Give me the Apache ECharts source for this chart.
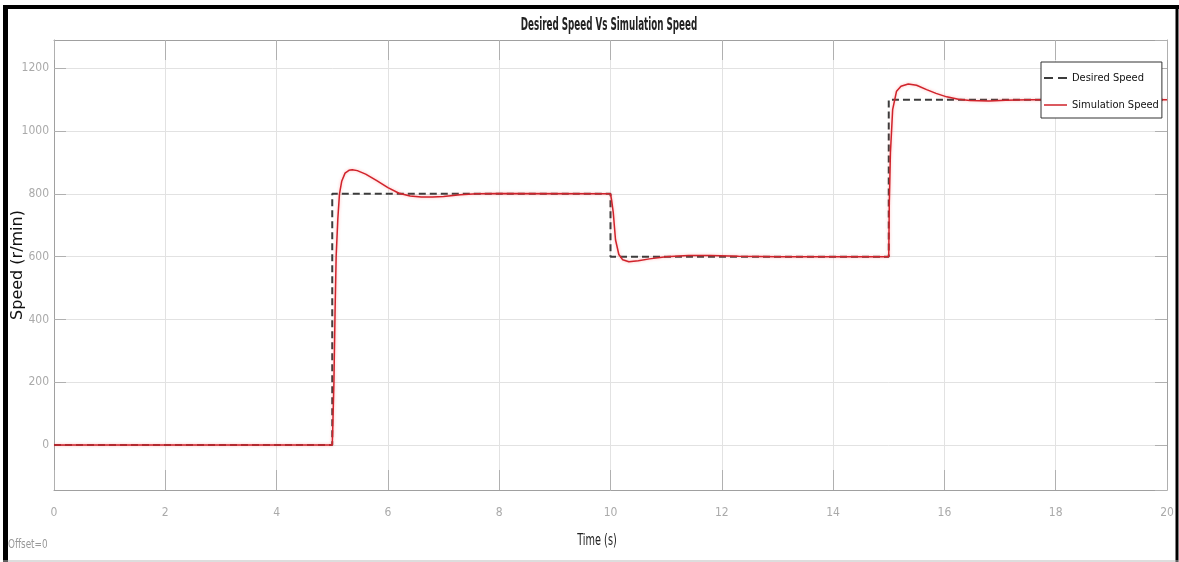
<!DOCTYPE html>
<html>
<head>
<meta charset="utf-8">
<title>Desired Speed Vs Simulation Speed</title>
<script src="https://cdn.jsdelivr.net/npm/echarts@6/dist/echarts.min.js"></script>
<style>
  html, body { margin: 0; padding: 0; background: #fff; }
  #chart { width: 1179px; height: 562px; }
</style>
</head>
<body>
<div id="chart"></div>
<script>
  // 给定转速（阶跃）
  var desiredTime = [0, 5, 5, 10, 10, 15, 15, 20];
  var desiredSpeed = [0, 0, 800, 800, 600, 600, 1100, 1100];

  // 仿真转速，从示波器图上读出来的
  var simTime = [0, 5.0, 5.01, 5.03, 5.05, 5.07, 5.1, 5.13, 5.17, 5.23, 5.3, 5.36, 5.45, 5.6, 5.8, 6.0, 6.2, 6.4,
    6.6, 6.8, 7.0, 7.3, 7.6, 8.0, 10.0, 10.02, 10.05, 10.09, 10.15, 10.22, 10.33, 10.5, 10.7, 11.0, 11.4, 11.8,
    12.3, 13.0, 15.0, 15.01, 15.03, 15.07, 15.14, 15.22, 15.35, 15.5, 15.68, 15.85, 16.04, 16.25, 16.46, 16.8,
    17.1, 17.5, 20];
  var simSpeed = [0, 0, 60, 200, 420, 600, 720, 800, 840, 866, 875, 877, 874, 863, 842, 820, 802, 793,
    790, 790, 792, 797, 800, 801, 800, 780, 740, 654, 607, 590, 584, 587, 593, 600, 604, 604,
    601, 600, 600, 771, 930, 1068, 1127, 1143, 1150, 1146, 1132, 1120, 1109, 1101, 1097, 1096,
    1098, 1100, 1100];

  // 刻度标签
  var xTicks = [0, 2, 4, 6, 8, 10, 12, 14, 16, 18, 20];
  var yTicks = [0, 200, 400, 600, 800, 1000, 1200];

  var narrow = "'DejaVu Sans Condensed', 'Liberation Sans', sans-serif";

  // 图例图标：虚线 / 实线（两个角上的小三角只是为了把包围盒撑成 23x14）
  var dashIcon = 'path://M0,0L0.01,0L0,0.01Z M0,6h9v2h-9z M14,6h9v2h-9z M23,14L22.99,14L23,13.99Z';
  var solidIcon = 'path://M0,0L0.01,0L0,0.01Z M0,6.2h23v1.6h-23z M23,14L22.99,14L23,13.99Z';

  function pairs(xs, ys) {
    var arr = [];
    xs.forEach(function (x, i) { arr.push([x, ys[i]]); });
    return arr;
  }

  function tickLabel(list) {
    return function (v) { return list.indexOf(v) >= 0 ? String(v) : ''; };
  }

  var yMin = -143, yMax = 1290;

  var axisLine = {show: true, onZero: false, lineStyle: {color: '#a0a0a0'}};

  var chart = echarts.init(document.getElementById('chart'));

  chart.setOption({
    animation: false,
    backgroundColor: '#fff',
    grid: {left: 54, top: 40, right: 12, bottom: 72, outerBoundsMode: 'none'},
    legend: {
      orient: 'vertical',
      left: 1041,
      top: 62,
      padding: [9, 3, 6, 3],
      itemWidth: 23,
      itemHeight: 14,
      itemGap: 13,
      backgroundColor: '#fff',
      borderColor: '#333',
      borderWidth: 1,
      selectedMode: false,
      textStyle: {fontFamily: narrow, fontSize: 11, color: '#111'},
      data: [
        {name: 'Desired Speed', icon: dashIcon},
        {name: 'Simulation Speed', icon: solidIcon}
      ]
    },
    xAxis: [{
      type: 'value',
      min: 0, max: 20, interval: 2,
      axisLine: axisLine,
      axisTick: {show: true, inside: true, length: 20, lineStyle: {color: '#b0b0b0'}},
      axisLabel: {color: '#aaa', fontFamily: narrow, fontSize: 12, margin: 17, formatter: tickLabel(xTicks)},
      splitLine: {show: true, lineStyle: {color: '#e2e2e2'}}
    }, {
      type: 'value', position: 'top',
      min: 0, max: 20, interval: 2,
      axisLine: axisLine,
      axisTick: {show: true, inside: true, length: 20, lineStyle: {color: '#b0b0b0'}},
      axisLabel: {show: false},
      splitLine: {show: false}
    }],
    yAxis: [{
      type: 'value',
      min: yMin, max: yMax, splitNumber: 7,
      name: 'Speed (r/min)',
      nameLocation: 'middle',
      nameRotate: 90,
      nameGap: 28,
      nameMoveOverlap: false,
      nameTextStyle: {fontFamily: 'DejaVu Sans', fontSize: 16, color: '#111'},
      axisLine: axisLine,
      axisTick: {show: true, inside: true, length: 12, lineStyle: {color: '#b0b0b0'}},
      axisLabel: {color: '#aaa', fontFamily: narrow, fontSize: 12, margin: 5,
        showMinLabel: false, showMaxLabel: false, formatter: tickLabel(yTicks)},
      splitLine: {show: true, lineStyle: {color: '#e2e2e2'}}
    }, {
      type: 'value', position: 'right',
      min: yMin, max: yMax, splitNumber: 7,
      axisLine: axisLine,
      axisTick: {show: true, inside: true, length: 12, lineStyle: {color: '#b0b0b0'}},
      axisLabel: {show: false},
      splitLine: {show: false}
    }],
    series: [{
      name: 'Desired Speed',
      type: 'line',
      symbol: 'none',
      data: pairs(desiredTime, desiredSpeed),
      itemStyle: {color: '#3c3c3c'},
      lineStyle: {color: '#3c3c3c', width: 2, type: [7, 4]},
      z: 2
    }, {
      name: 'Simulation Speed',
      type: 'line',
      symbol: 'none',
      data: pairs(simTime, simSpeed),
      itemStyle: {color: '#d0232b'},
      lineStyle: {color: '#d0232b', width: 1.5, shadowColor: 'rgba(255,80,80,0.45)', shadowBlur: 3},
      z: 3
    }],
    graphic: [
      // 外框
      {type: 'line', shape: {x1: 3, y1: 7, x2: 1179, y2: 7}, style: {stroke: '#000', lineWidth: 4}},
      {type: 'line', shape: {x1: 5.5, y1: 5, x2: 5.5, y2: 562}, style: {stroke: '#000', lineWidth: 5}},
      {type: 'line', shape: {x1: 1177, y1: 5, x2: 1177, y2: 562}, style: {stroke: '#000', lineWidth: 3}},
      {type: 'line', shape: {x1: 3, y1: 561, x2: 1179, y2: 561}, style: {stroke: '#bbb', lineWidth: 1}},
      {
        type: 'text', x: 609, y: 25, scaleX: 0.54,
        style: {text: 'Desired Speed Vs Simulation Speed', fill: '#222', align: 'center', verticalAlign: 'middle',
          font: 'bold 18px ' + narrow}
      },
      {
        type: 'text', x: 597, y: 541, scaleX: 0.72,
        style: {text: 'Time (s)', fill: '#222', align: 'center', verticalAlign: 'middle', font: '15px ' + narrow}
      },
      {
        type: 'text', x: 8, y: 545, scaleX: 0.82,
        style: {text: 'Offset=0', fill: '#999', align: 'left', verticalAlign: 'middle', font: '12px ' + narrow}
      }
    ]
  });

  window.onresize = function () {
    chart.resize();
  };
</script>
</body>
</html>
